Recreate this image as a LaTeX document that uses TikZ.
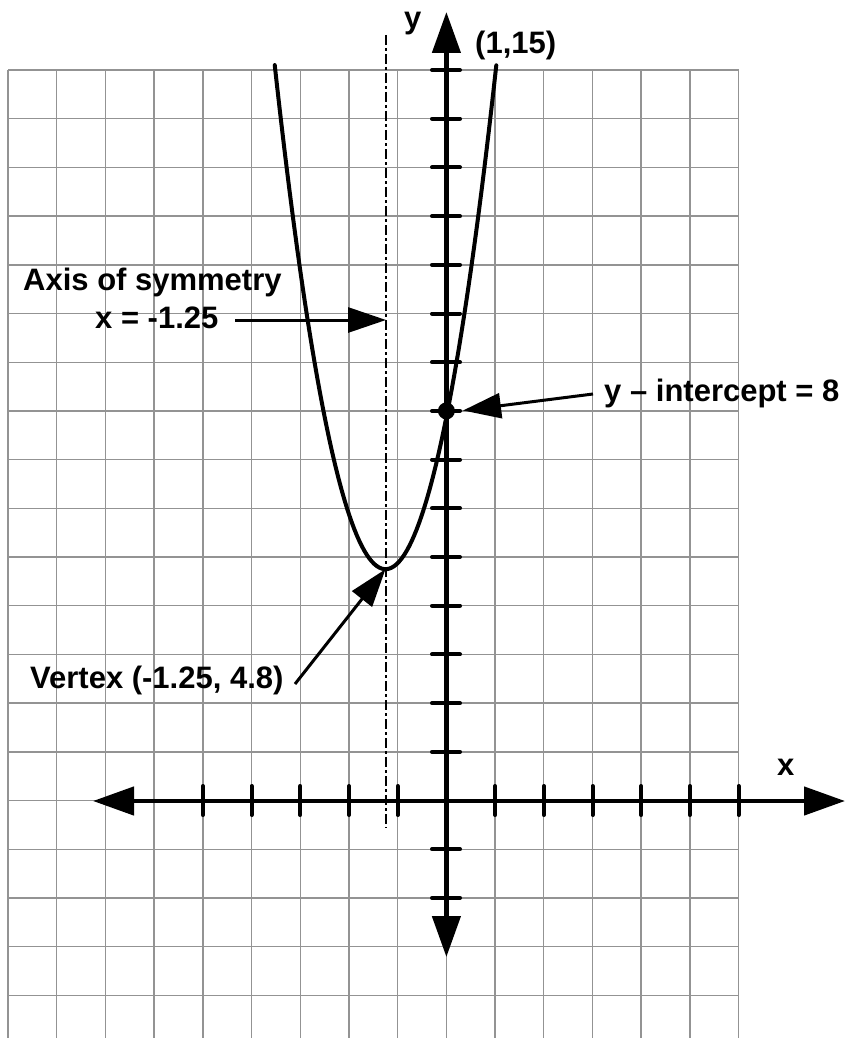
\documentclass[tikz,border=0pt]{standalone}
\usepackage{fontspec}
\setmainfont{Liberation Sans}
\usetikzlibrary{arrows.meta}
\begin{document}
\begin{tikzpicture}[x=1pt,y=-1pt,
  gridline/.style={draw=gray!85, line width=1.4pt},
  axisline/.style={line width=4.5pt, {Triangle[length=41pt,width=28pt]}-{Triangle[length=41pt,width=28pt]}},
  tickmark/.style={line width=4pt, line cap=round},
  curveline/.style={line width=4pt, line cap=round},
  symline/.style={line width=2pt, dash pattern=on 10pt off 3pt on 3pt off 3pt},
  lblarrow/.style={line width=3pt, -{Triangle[length=38pt,width=25pt]}},
  lbl/.style={font=\bfseries\fontsize{31}{37}\selectfont, inner sep=0pt, anchor=base west}
]
\fill[white] (0,0) rectangle (845,1038);
\useasboundingbox (0,0) rectangle (845,1038);
% grid
\foreach \i in {0,...,15} \draw[gridline] ({8+48.7*\i},70) -- ({8+48.7*\i},1038);
\foreach \j in {0,...,19} \draw[gridline] (8,{70+48.7*\j}) -- (738.5,{70+48.7*\j});
% axes
\coordinate (xleft) at (93,801);
\coordinate (xright) at (845,801);
\coordinate (ybot) at (446.4,957);
\coordinate (ytop) at (446.4,12);
\draw[axisline] (xleft) -- (xright);
\draw[axisline] (ybot) -- (ytop);
% ticks
\foreach \k in {-2,-1,1,2,3,4,5,6,7,8,9,10,11,12,13,14,15}
  \draw[tickmark] (432,{800.5-48.7*\k}) -- (460,{800.5-48.7*\k});
\foreach \k in {-5,-4,-3,-2,-1,1,2,3,4,5,6}
  \draw[tickmark] ({446.4+48.7*\k},786) -- ({446.4+48.7*\k},815);
% axis of symmetry
\coordinate (symtop) at (385.5,35);
\coordinate (symbot) at (385.5,828);
\draw[symline] (symtop) -- (symbot);
% parabola
\draw[curveline] plot[domain=-3.525:1.025, samples=90]
  ({446.4+48.7*\x},{800.5-48.7*(2*(\x+1.25)^2+4.75)});
% points
\coordinate (vtx) at (385.5,569.2);
\node[circle, fill, inner sep=0pt, minimum size=17pt] (yint) at (446.4,410.9) {};
% labels
\node[lbl] (ylab) at (404,29) {y};
\node[lbl] (xlab) at (777,775) {x};
\node[lbl] (pt) at (475,54) {(1,15)};
\node[lbl] (axislab) at (23,290) {Axis of symmetry};
\node[lbl] (axiseq) at (95,328) {x = -1.25};
\node[lbl] (vtxlab) at (30,688) {Vertex (-1.25, 4.8)};
\node[lbl] (yintlab) at (604,401) {y – intercept = 8};
% label arrows
\coordinate (symfrom) at (235,320);
\coordinate (symto) at (386,320);
\draw[lblarrow] (symfrom) -- (symto);
\coordinate (vtxfrom) at (295,684);
\draw[lblarrow] (vtxfrom) -- (vtx);
\coordinate (yintfrom) at (593,394);
\coordinate (yintto) at (463,410.5);
\draw[lblarrow] (yintfrom) -- (yintto);
\end{tikzpicture}
\end{document}
